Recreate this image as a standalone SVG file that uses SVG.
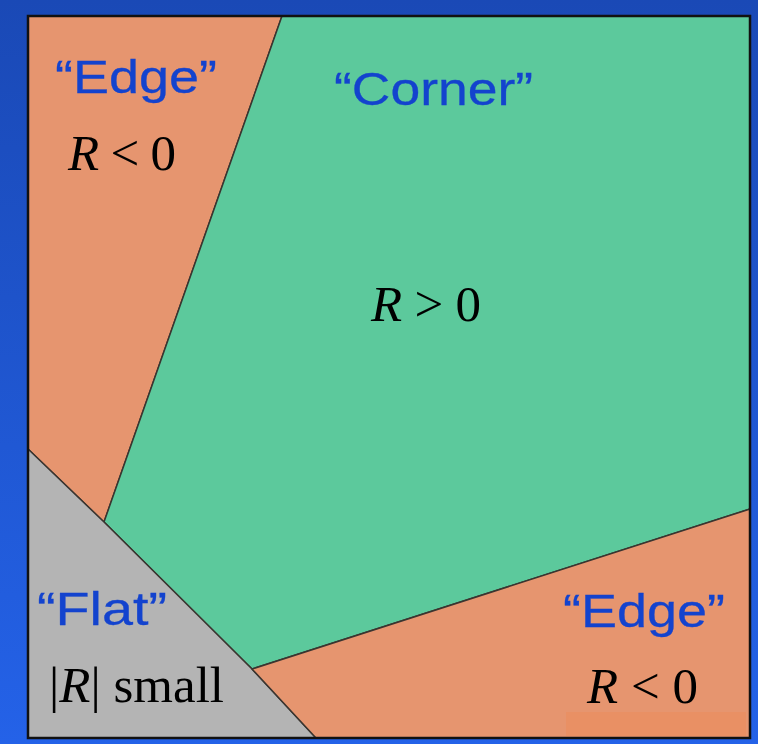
<svg xmlns="http://www.w3.org/2000/svg" width="758" height="744" viewBox="0 0 758 744">
  <defs>
    <linearGradient id="bg" x1="0" y1="0" x2="0" y2="1">
      <stop offset="0" stop-color="#1A49B6"/>
      <stop offset="1" stop-color="#2462E8"/>
    </linearGradient>
    <style>
      .region { stroke: #3a3530; stroke-width: 1.5; stroke-linejoin: round; }
      .orange { fill: #E6956F; }
      .green { fill: #5CC99C; }
      .gray { fill: #B4B4B4; }
      .label { font-family: "Liberation Sans", Arial, sans-serif; font-size: 47px; fill: #1343CE; stroke: #1343CE; stroke-width: 0.3; }
      .math { font-family: "Liberation Serif", "Times New Roman", serif; font-size: 51px; fill: #000; }
      .it { font-style: italic; }
    </style>
  </defs>
  <rect x="0" y="0" width="758" height="744" fill="url(#bg)"/>

  <g id="edge-top-left">
    <polygon class="region orange" points="28,16 282,16 104,522 28,449"/>
  </g>
  <g id="corner">
    <polygon class="region green" points="282,16 750,16 750,509 252,669 104,522"/>
  </g>
  <g id="flat">
    <polygon class="region gray" points="28,449 104,522 252,669 316,738 28,738"/>
  </g>
  <g id="edge-bottom-right">
    <polygon class="region orange" points="252,669 750,509 750,738 316,738"/>
    <rect x="566" y="712" width="180" height="24" fill="#EA8E60" opacity="0.7"/>
  </g>

  <rect x="28" y="16" width="722" height="722" fill="none" stroke="#111" stroke-width="2.5"/>

  <g id="labels">
    <text class="label" x="55" y="93" textLength="162" lengthAdjust="spacingAndGlyphs">“Edge”</text>
    <text class="math" x="68" y="170" textLength="108" lengthAdjust="spacing"><tspan class="it">R</tspan> &lt; 0</text>
    <text class="label" x="334" y="105" textLength="199" lengthAdjust="spacingAndGlyphs">“Corner”</text>
    <text class="math" x="371" y="321" textLength="110" lengthAdjust="spacing"><tspan class="it">R</tspan> &gt; 0</text>
    <text class="label" x="37" y="625" textLength="130" lengthAdjust="spacingAndGlyphs">“Flat”</text>
    <text class="math" x="49" y="702" textLength="175" lengthAdjust="spacing">|<tspan class="it">R</tspan>| small</text>
    <text class="label" x="563" y="627" textLength="162" lengthAdjust="spacingAndGlyphs">“Edge”</text>
    <text class="math" x="587" y="703" textLength="111" lengthAdjust="spacing"><tspan class="it">R</tspan> &lt; 0</text>
  </g>
</svg>
